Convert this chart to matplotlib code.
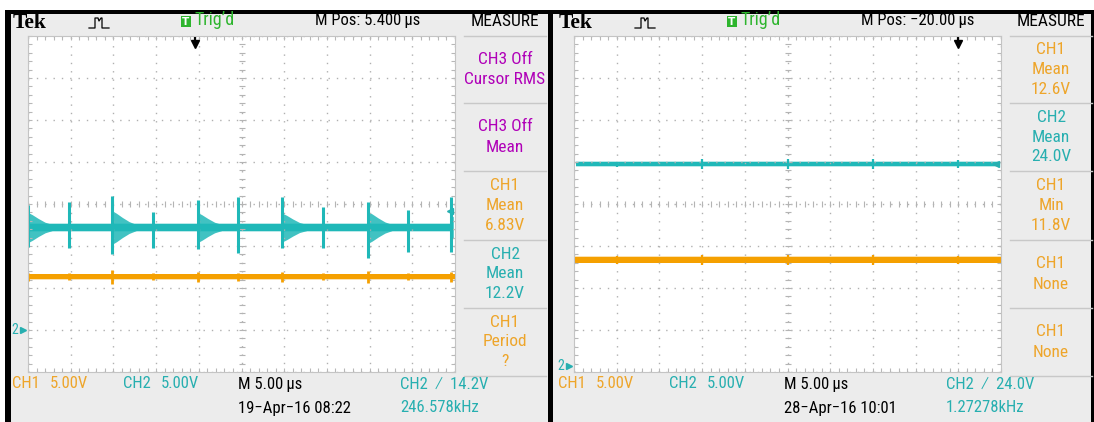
import numpy as np
import matplotlib.pyplot as plt
from matplotlib.lines import Line2D
from matplotlib.patches import Rectangle

W, H = 1094, 422

# ---------------- data read off the two scope screens ----------------
# screen 1 (19-Apr-16 08:22), time in us from left edge of screen
spk1_t = [0.0, 4.8, 9.85, 14.65, 19.85, 24.55, 29.8, 34.5, 39.8, 44.5, 49.55]
ch2_1_hi = [2.7, 3.0, 3.7, 1.9, 3.3, 3.6, 3.6, 2.4, 3.0, 2.1, 3.6]   # V above mean
ch2_1_lo = [2.3, 2.4, 3.2, 2.4, 2.6, 3.0, 2.4, 2.4, 3.6, 2.9, 2.9]   # V below mean
ch2_1_ring = [1.8, 0, 2.0, 0, 1.8, 0, 1.7, 0, 1.9, 0, 1.5]           # ringing amplitude V
ring_dt = [0.0, 0.5, 1.2, 2.0, 2.8]       # us after the spike
ring_env = [1.0, 0.85, 0.6, 0.35, 0.0]    # fraction of ringing amplitude
ch1_1_bump = [0.5, 0.4, 0.8, 0.4, 0.6, 0.5, 0.6, 0.4, 0.7, 0.4, 0.6]
ch1_1_mean, ch2_1_mean = 6.83, 12.2
trig1 = 14.2
mpos1 = 5.4

# screen 2 (28-Apr-16 10:01)
spk2_t = [5, 15, 25, 35, 45]
ch2_2_bump = [0.3, 0.6, 0.6, 0.6, 0.5]
ch1_2_bump = [0.5, 0.6, 0.6, 0.6, 0.5]
ch1_2_mean, ch2_2_mean = 12.6, 24.0
trig2 = 24.0
mpos2 = -20.0

meas1 = [["CH3 Off", "Cursor RMS"], ["CH3 Off", "Mean"], ["CH1", "Mean", "6.83V"],
         ["CH2", "Mean", "12.2V"], ["CH1", "Period", "?"]]
meas2 = [["CH1", "Mean", "12.6V"], ["CH2", "Mean", "24.0V"], ["CH1", "Min", "11.8V"],
         ["CH1", "None"], ["CH1", "None"]]

ORG = '#f5a000'
CYN = '#1fb8b8'
ORG_T = '#eea52a'
CYN_T = '#27afb0'
MAG = '#b000b8'
GRN = '#2eb52e'
PANEL = '#ececec'
VDIV = 5.0  # V/div

NARROW = ['Roboto Condensed', 'PT Sans Narrow', 'Archivo Narrow', 'Liberation Sans']


def fx(x):
    return x / W


def fy(y):
    return 1 - y / H


def ftext(x, y, s, **kw):
    kw.setdefault('family', NARROW)
    kw.setdefault('fontsize', 12)
    kw.setdefault('va', 'center')
    fig.text(fx(x), fy(y), s, **kw)


def frect(x0, y0, x1, y1, **kw):
    fig.add_artist(Rectangle((fx(x0), fy(y1)), (x1 - x0) / W, (y1 - y0) / H,
                             transform=fig.transFigure, **kw))


def fline(xs, ys, **kw):
    fig.add_artist(Line2D([fx(v) for v in xs], [fy(v) for v in ys],
                          transform=fig.transFigure, **kw))


def scope_grid(ax):
    ax.set_xlim(0, 50)
    ax.set_ylim(-4, 4)
    ax.set_facecolor('white')
    for s in ax.spines.values():
        s.set_color('#c4c4c4')
        s.set_linewidth(0.8)
    ax.set_xticks(np.arange(0, 50.1, 5))
    ax.set_xticks(np.arange(0, 50.1, 1), minor=True)
    ax.set_yticks(np.arange(-4, 4.1, 1))
    ax.set_yticks(np.arange(-4, 4.01, 0.2), minor=True)
    ax.tick_params(which='both', direction='in', top=True, right=True,
                   labelbottom=False, labelleft=False, color='#b8b8b8',
                   length=3, width=0.8)
    ax.grid(which='major', linestyle=(0, (1, 5)), color='#b0b0b0', lw=1)
    ax.plot(np.arange(0, 50.1, 1), np.zeros(51), ls='none', marker='|',
            ms=4, mew=0.8, color='#b4b4b4')
    ax.plot(np.full(41, 25.0), np.arange(-4, 4.01, 0.2), ls='none', marker='_',
            ms=4, mew=0.8, color='#b4b4b4')


def band(ax, t0, t1, lvl, hw, color):
    ax.fill_between([t0, t1], lvl - hw * 1.3, lvl + hw * 1.3, color=color, alpha=0.3, lw=0)
    ax.fill_between([t0, t1], lvl - hw, lvl + hw, color=color, lw=0)


def header(x0, mpos):
    ftext(x0 + 3, 23, 'Tek', family=['Liberation Serif', 'DejaVu Serif'],
          fontsize=15.5, weight='bold', color='black')
    fline([x0 + 79, x0 + 85, x0 + 85, x0 + 88, x0 + 89, x0 + 91, x0 + 92, x0 + 92, x0 + 99],
          [28, 28, 18, 18, 21, 18, 18, 28, 28], color='black', lw=0.9)
    frect(x0 + 171, 16, x0 + 181, 27, color=GRN, lw=0)
    ftext(x0 + 176, 21.8, 'T', color='white', fontsize=7.5, weight='bold', ha='center',
          family='DejaVu Sans')
    ftext(x0 + 184, 20, "Trig\u2019d", color=GRN, fontsize=13)
    ftext(x0 + 305, 21, 'M Pos: %s\u2009\u00b5s' % mpos, color='black', fontsize=12)
    ftext(x0 + 495, 21, 'MEASURE', color='black', fontsize=12.5, ha='center')


def menu(x0, items, colors):
    cx = x0 + 495
    seps = [36, 103, 171, 240, 308, 376]
    for ys in seps:
        fline([x0 + 454, x0 + 536], [ys, ys], color='#c8c8c8', lw=1)
    for i, (lines, col) in enumerate(zip(items, colors)):
        mid = (seps[i] + seps[i + 1]) / 2
        step = 19.5 if len(lines) == 3 else 21
        y0 = mid - step * (len(lines) - 1) / 2
        for j, s in enumerate(lines):
            ftext(cx, y0 + j * step, s, color=col, ha='center', fontsize=12.5)


def footer(x0, trig, date, freq):
    ftext(x0 + 2, 384, 'CH1', color=ORG_T)
    ftext(x0 + 40, 384, '5.00V', color=ORG_T)
    ftext(x0 + 113, 384, 'CH2', color=CYN_T)
    ftext(x0 + 151, 384, '5.00V', color=CYN_T)
    ftext(x0 + 228, 384, 'M 5.00\u2009\u00b5s', color='black')
    ftext(x0 + 228, 408, date, color='black')
    ftext(x0 + 390, 384, 'CH2  \u2215  %.1fV' % trig, color=CYN_T)
    ftext(x0 + 390, 408, freq, color=CYN_T)


fig = plt.figure(figsize=(W / 100, H / 100), dpi=100)
fig.patch.set_facecolor('white')

# panel backgrounds and black frame
frect(5, 10, 1094, 422, color=PANEL, lw=0, zorder=-10)
frect(5, 10, 1094, 14, color='black', lw=0)
frect(5, 10, 11, 422, color='black', lw=0)
frect(548, 10, 553, 422, color='black', lw=0)
frect(1091, 10, 1094, 422, color='black', lw=0)

screens = [
    dict(x0=10, mpos='5.400', mposv=mpos1, meas=meas1,
         mcol=[MAG, MAG, ORG_T, CYN_T, ORG_T], trig=trig1,
         date='19\u2212Apr\u221216 08:22', freq='246.578kHz',
         g1=-3.1, g2=-3.0),
    dict(x0=556, mpos='\u221220.00', mposv=mpos2, meas=meas2,
         mcol=[ORG_T, CYN_T, ORG_T, ORG_T, ORG_T], trig=trig2,
         date='28\u2212Apr\u221216 10:01', freq='1.27278kHz',
         g1=-3.85, g2=-3.85),
]

axes = []
for k, sc in enumerate(screens):
    x0 = sc['x0']
    gx0 = x0 + 18
    ax = fig.add_axes([fx(gx0), fy(372), 427 / W, 336 / H])
    scope_grid(ax)
    axes.append(ax)
    header(x0, sc['mpos'])
    menu(x0, sc['meas'], sc['mcol'])
    footer(x0, sc['trig'], sc['date'], sc['freq'])

    # ground marker for CH2 and trigger level marker
    ax.text(-0.03, sc['g2'], '2', transform=ax.get_yaxis_transform(), color=CYN_T,
            fontsize=10, ha='center', va='center', family=NARROW, clip_on=False)
    ax.plot([-0.012], [sc['g2']], marker='>', ms=4.5, color=CYN_T,
            transform=ax.get_yaxis_transform(), clip_on=False)
    ax.plot([0.988], [sc['g2'] + sc['trig'] / VDIV], marker='<', ms=5, color=CYN_T,
            transform=ax.get_yaxis_transform(), clip_on=False)
    # trigger position arrow
    tt = 25 - sc['mposv']
    ax.vlines(tt, 3.8, 3.98, color='black', lw=1.6)
    ax.plot([tt], [3.8], marker='v', ms=6, color='black', clip_on=False)

# ---- screen 1 traces ----
ax = axes[0]
g1, g2 = screens[0]['g1'], screens[0]['g2']
l2 = g2 + ch2_1_mean / VDIV
l1 = g1 + ch1_1_mean / VDIV
band(ax, 0.1, 49.8, l2, 0.075, CYN)
for t, hi, lo, rg in zip(spk1_t, ch2_1_hi, ch2_1_lo, ch2_1_ring):
    ax.vlines(t, l2 - lo / VDIV, l2 + hi / VDIV, color=CYN, lw=2.2)
    if rg > 0:
        ts = [min(t + d, 49.8) for d in ring_dt]
        up = [l2 + max(rg * e / VDIV, 0.075) for e in ring_env]
        dn = [l2 - max(rg * e / VDIV, 0.075) for e in ring_env]
        ax.fill_between(ts, dn, up, color=CYN, lw=0, alpha=0.85)
band(ax, 0.0, 50.0, l1, 0.06, ORG)
for t, b in zip(spk1_t, ch1_1_bump):
    ax.vlines(t, l1 - b / VDIV, l1 + b / VDIV, color=ORG, lw=2.0)

# ---- screen 2 traces ----
ax = axes[1]
g1, g2 = screens[1]['g1'], screens[1]['g2']
l2 = g2 + ch2_2_mean / VDIV
l1 = g1 + ch1_2_mean / VDIV
band(ax, 0.2, 49.6, l2, 0.055, CYN)
for t, b in zip(spk2_t, ch2_2_bump):
    ax.vlines(t, l2 - b / VDIV, l2 + b / VDIV, color=CYN, lw=1.6)
band(ax, 0.0, 50.0, l1, 0.065, ORG)
for t, b in zip(spk2_t, ch1_2_bump):
    ax.vlines(t, l1 - b / VDIV, l1 + b / VDIV, color=ORG, lw=1.6)

fig.savefig('out.png', dpi=100)
